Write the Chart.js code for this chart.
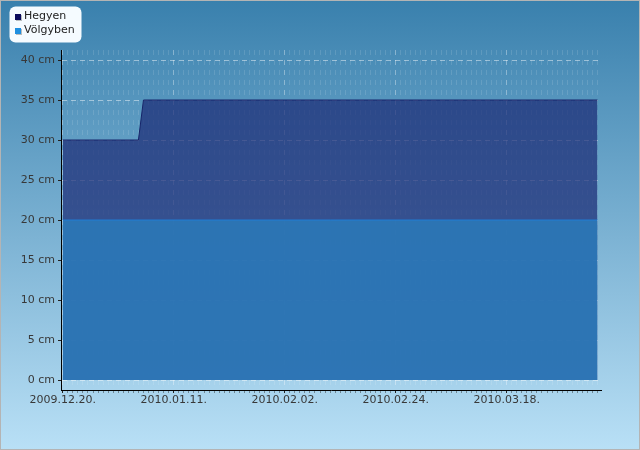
<!DOCTYPE html>
<html>
<head>
<meta charset="utf-8">
<script src="https://cdn.jsdelivr.net/npm/chart.js@4/dist/chart.umd.min.js"></script>
<style>
  html, body { margin: 0; padding: 0; background: #fff; }
  #wrap { width: 640px; height: 450px; position: relative; }
</style>
</head>
<body>
<div id="wrap"><canvas id="snowChart" width="640" height="450"></canvas></div>
<script>
// Hóvastagság adatok
const seriesNames = ['Hegyen', 'Völgyben'];
const hegyenDates = ['2009-12-20', '2010-01-04', '2010-01-05', '2010-04-05'];
const hegyenValues = [30, 30, 35, 35];
const volgyDates = ['2009-12-20', '2010-04-05'];
const volgyValues = [20, 20];
const xTickLabels = ['2009.12.20.', '2010.01.11.', '2010.02.02.', '2010.02.24.', '2010.03.18.'];
const yTicks = [0, 5, 10, 15, 20, 25, 30, 35, 40];

const startDate = Date.parse(hegyenDates[0]);
const dayOf = d => Math.round((Date.parse(d) - startDate) / 864e5);
const toPoints = (dates, values) => dates.map((d, i) => ({ x: dayOf(d), y: values[i] }));

const legendColors = ['#0b0b5c', '#1e8fe0'];

// Háttér gradiens + keret
const bgPlugin = {
    id: 'bg',
    beforeDraw(chart) {
        const c = chart.ctx;
        const g = c.createLinearGradient(0, 0, 0, chart.height);
        g.addColorStop(0, '#3980ad');
        g.addColorStop(1, '#b9e0f6');
        c.save();
        c.fillStyle = g;
        c.fillRect(0, 0, chart.width, chart.height);
        c.strokeStyle = '#b4b4b4';
        c.lineWidth = 1;
        c.strokeRect(0.5, 0.5, chart.width - 1, chart.height - 1);
        c.restore();
    }
};

// Saját jelmagyarázat fehér dobozban
const legendPlugin = {
    id: 'boxLegend',
    afterDraw(chart) {
        const c = chart.ctx;
        c.save();
        c.fillStyle = '#f5fbff';
        c.beginPath();
        c.roundRect(9.5, 6.5, 72, 36, 6);
        c.fill();
        c.font = '11px "DejaVu Sans"';
        c.textBaseline = 'middle';
        seriesNames.forEach((name, i) => {
            const y = 17 + i * 14;
            c.fillStyle = 'rgba(0,0,0,0.25)';
            c.fillRect(16, y - 2, 6, 6);
            c.fillStyle = legendColors[i];
            c.fillRect(15, y - 3, 6, 6);
            c.fillStyle = '#222';
            c.fillText(name, 24, y - 1);
        });
        c.restore();
    }
};

document.addEventListener("DOMContentLoaded", function () {
    const ctx = document.getElementById('snowChart').getContext('2d');

    new Chart(ctx, {
        type: 'line',
        data: {
            datasets: [
                {
                    label: seriesNames[0],
                    data: toPoints(hegyenDates, hegyenValues),
                    borderColor: '#17256a',
                    borderWidth: 1,
                    backgroundColor: 'rgba(26,40,116,0.7)',
                    fill: 'origin',
                    pointRadius: 0,
                    tension: 0,
                    order: 1
                },
                {
                    label: seriesNames[1],
                    data: toPoints(volgyDates, volgyValues),
                    borderColor: 'rgba(30,125,215,0.95)',
                    borderWidth: 1,
                    backgroundColor: 'rgba(42,122,186,0.85)',
                    fill: 'origin',
                    pointRadius: 0,
                    tension: 0,
                    order: 0
                }
            ]
        },
        options: {
            responsive: false,
            animation: false,
            layout: { padding: { top: 50, right: 39, bottom: 35, left: 0 } },
            plugins: {
                legend: { display: false },
                tooltip: { enabled: false }
            },
            scales: {
                x: {
                    type: 'linear',
                    min: -0.35,
                    max: 106.7,
                    afterBuildTicks: axis => {
                        const t = [];
                        for (let d = 0; d <= 106; d++) t.push({ value: d });
                        axis.ticks = t;
                    },
                    afterFit: axis => { axis.height = 25; },
                    ticks: {
                        autoSkip: false,
                        maxRotation: 0,
                        padding: 1,
                        color: '#383838',
                        font: { family: 'DejaVu Sans', size: 11 },
                        callback: v => (v % 22 === 0 ? xTickLabels[v / 22] : '')
                    },
                    grid: {
                        color: c => (c.tick && c.tick.value % 22 === 0) ? 'rgba(255,255,255,0.35)' : 'rgba(255,255,255,0.12)',
                        tickColor: c => (c.tick && c.tick.value % 22 === 0) ? '#222' : 'rgba(40,40,40,0.45)',
                        tickLength: 3,
                        lineWidth: 1
                    },
                    border: {
                        color: '#000',
                        width: 1,
                        dash: [5, 5]
                    }
                },
                y: {
                    min: -1.25,
                    max: 41.25,
                    afterBuildTicks: axis => {
                        axis.ticks = yTicks.map(v => ({ value: v }));
                    },
                    afterFit: axis => { axis.width = 61; },
                    ticks: {
                        padding: 3,
                        color: '#383838',
                        font: { family: 'DejaVu Sans', size: 11 },
                        callback: v => v + ' cm'
                    },
                    grid: {
                        color: 'rgba(255,255,255,0.45)',
                        tickColor: '#222',
                        tickLength: 3,
                        lineWidth: 1
                    },
                    border: {
                        color: '#000',
                        width: 1,
                        dash: [5, 4]
                    }
                }
            }
        },
        plugins: [bgPlugin, legendPlugin]
    });
});
</script>
</body>
</html>
